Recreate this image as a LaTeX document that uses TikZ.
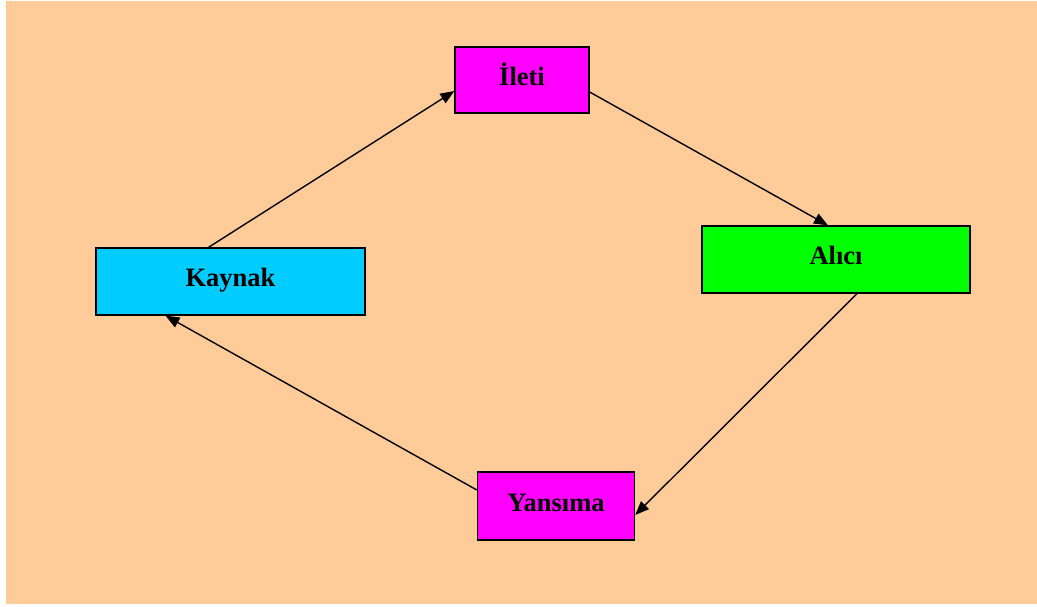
\documentclass[tikz,border=0pt]{standalone}
\usepackage{fontspec}
\setmainfont{Liberation Serif}
\usetikzlibrary{arrows.meta}
\definecolor{peach}{HTML}{FFCC99}
\definecolor{boxmag}{HTML}{FF00FF}
\definecolor{boxgreen}{HTML}{00FF00}
\definecolor{boxcyan}{HTML}{00CCFF}
\tikzset{
  stagebox/.style={draw=black, line width=1.3pt, inner sep=0pt,
    font=\fontsize{26.5}{30}\selectfont\bfseries, text height=14pt, text depth=4pt},
  flow/.style={draw=black, line width=1.4pt, -{Triangle[length=14pt,width=11pt]}}
}
\begin{document}
\begin{tikzpicture}[x=1pt,y=-1pt]
\useasboundingbox (0,0) rectangle (1037,606);
\fill[white] (0,0) rectangle (1037,606);
\fill[peach] (6,1) rectangle (1037,604);
\node[stagebox, fill=boxmag, minimum width=134pt, minimum height=66pt] (ileti) at (522,80) {İleti};
\node[stagebox, fill=boxgreen, minimum width=268pt, minimum height=67pt] (alici) at (836,259.5) {Alıcı};
\node[stagebox, fill=boxcyan, minimum width=269pt, minimum height=67pt] (kaynak) at (230.5,281.5) {Kaynak};
\node[stagebox, fill=boxmag, minimum width=157pt, minimum height=68pt] (yansima) at (556,506) {Yansıma};
\draw[flow] ([xshift=-22pt]kaynak.north) -- ([yshift=-11pt]ileti.west);
\draw[flow] ([yshift=-12pt]ileti.east) -- ([xshift=-8pt]alici.north);
\draw[flow] ([xshift=21pt]alici.south) -- ([yshift=-9pt]yansima.east);
\draw[flow] ([yshift=16pt]yansima.west) -- ([xshift=-65pt]kaynak.south);
\end{tikzpicture}
\end{document}
